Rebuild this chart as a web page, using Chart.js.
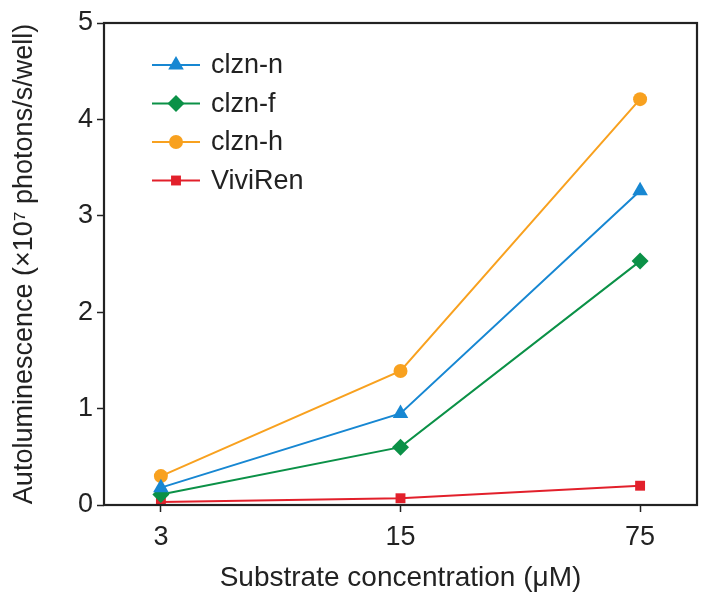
<!DOCTYPE html>
<html>
<head>
<meta charset="utf-8">
<script src="https://cdn.jsdelivr.net/npm/chart.js@4/dist/chart.umd.min.js"></script>
<style>
  html, body { margin: 0; padding: 0; background: #fff; }
  #wrap { width: 709px; height: 603px; }
</style>
</head>
<body>
<div id="wrap"><canvas id="chart" width="709" height="603"></canvas></div>
<script>
// Data
const concLabels = ['3', '15', '75'];
const clznN = [0.18, 0.95, 3.26];
const clznF = [0.11, 0.60, 2.53];
const clznH = [0.30, 1.39, 4.21];
const viviRen = [0.03, 0.07, 0.20];
const yTicks = [0, 1, 2, 3, 4, 5];

const FONT = '"Liberation Sans", Arial, Helvetica, sans-serif';
const INK = '#222';

function toPoints(values) {
    return values.map((v, i) => ({ x: i, y: v }));
}

function series(label, values, color, style, radius) {
    return {
        label: label,
        data: toPoints(values),
        borderColor: color,
        backgroundColor: color,
        borderWidth: 2,
        pointStyle: style,
        pointRadius: radius,
        pointBorderWidth: 0,
        pointHoverRadius: radius,
        tension: 0
    };
}

// Box round the plot area plus a legend with line + marker samples
const framePlugin = {
    id: 'frame',
    afterDraw(chart) {
        const ctx = chart.ctx;
        const a = chart.chartArea;
        ctx.save();
        ctx.strokeStyle = INK;
        ctx.lineWidth = 2.2;
        ctx.strokeRect(a.left, a.top, a.right - a.left, a.bottom - a.top);

        // legend
        const x0 = a.left + 48;
        let y = a.top + 42;
        ctx.font = '27px ' + FONT;
        ctx.textBaseline = 'middle';
        chart.data.datasets.forEach(ds => {
            ctx.strokeStyle = ds.borderColor;
            ctx.lineWidth = 2;
            ctx.beginPath();
            ctx.moveTo(x0, y);
            ctx.lineTo(x0 + 48, y);
            ctx.stroke();
            ctx.fillStyle = ds.backgroundColor;
            Chart.helpers.drawPoint(ctx, {
                pointStyle: ds.pointStyle,
                radius: ds.pointRadius,
                rotation: 0,
                borderWidth: 0
            }, x0 + 24, y);
            ctx.fillStyle = INK;
            ctx.fillText(ds.label, x0 + 59, y + 1);
            y += 38.5;
        });
        ctx.restore();
    }
};

new Chart(document.getElementById('chart'), {
    type: 'line',
    data: {
        datasets: [
            series('clzn-n', clznN, '#1787d2', 'triangle', 9),
            series('clzn-f', clznF, '#0b9147', 'rectRot', 8.5),
            series('clzn-h', clznH, '#f8a11f', 'circle', 7),
            series('ViviRen', viviRen, '#e2202b', 'rect', 7)
        ]
    },
    options: {
        responsive: false,
        animation: false,
        layout: { padding: { top: 23, right: 12, left: 0, bottom: 0 } },
        plugins: {
            legend: { display: false },
            tooltip: { enabled: false }
        },
        scales: {
            x: {
                type: 'linear',
                min: -0.2375,
                max: 2.2375,
                afterBuildTicks(scale) {
                    scale.ticks = concLabels.map((_, i) => ({ value: i }));
                },
                afterFit(scale) { scale.height = 98; },
                grid: {
                    drawOnChartArea: false,
                    drawTicks: true,
                    tickLength: 7,
                    tickWidth: 1.5,
                    tickColor: INK
                },
                border: { display: false },
                ticks: {
                    color: INK,
                    font: { family: FONT, size: 27 },
                    padding: 9,
                    callback: v => concLabels[v]
                },
                title: {
                    display: true,
                    text: 'Substrate concentration (μM)',
                    color: INK,
                    font: { family: FONT, size: 28 },
                    padding: { top: 0, bottom: 8 }
                }
            },
            y: {
                min: 0,
                max: 5,
                afterBuildTicks(scale) {
                    scale.ticks = yTicks.map(v => ({ value: v }));
                },
                afterFit(scale) { scale.width = 104; },
                grid: {
                    drawOnChartArea: false,
                    drawTicks: true,
                    tickLength: 7,
                    tickWidth: 1.5,
                    tickColor: INK
                },
                border: { display: false },
                ticks: {
                    color: INK,
                    font: { family: FONT, size: 27 },
                    padding: 4
                },
                title: {
                    display: true,
                    text: 'Autoluminescence (×10⁷ photons/s/well)',
                    color: INK,
                    font: { family: FONT, size: 27 },
                    padding: { top: 8, bottom: 0 }
                }
            }
        }
    },
    plugins: [framePlugin]
});
</script>
</body>
</html>
